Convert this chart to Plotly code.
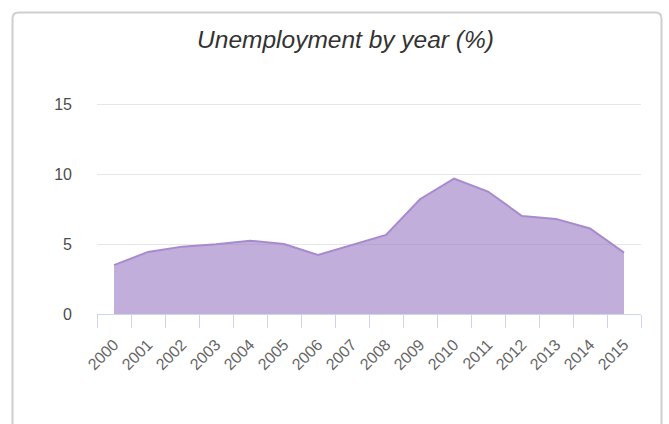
import plotly.graph_objects as go

# data
years = [str(y) for y in range(2000, 2016)]
unemployment = [3.5, 4.45, 4.83, 5.0, 5.26, 5.02, 4.23, 4.97,
                5.67, 8.23, 9.71, 8.78, 7.03, 6.82, 6.13, 4.4]
y_ticks = [0, 5, 10, 15]

W, H = 669, 424
L, R, T, B = 97, 28, 102, 110   # plot area margins (px)
PW, PH = W - L - R, H - T - B

idx = list(range(len(years)))
bounds = [i - 0.5 for i in range(len(years) + 1)]   # category edges for ticks


def px(x):
    return (x - L) / PW


def py(y):
    return (H - B - y) / PH


fig = go.Figure()
fig.add_trace(go.Scatter(
    x=idx, y=unemployment, mode='lines', fill='tozeroy',
    line=dict(color='rgb(168,138,206)', width=2),
    fillcolor='rgba(160,130,200,0.65)',
    showlegend=False,
    customdata=years,
    hovertemplate='%{customdata}: %{y:.1f}%<extra></extra>',
))

# card outline (rounded, runs off the bottom of the view)
x0, x1, y0, y1, r = 12.5, 661.5, 12.5, 440, 6
card = (f'M {px(x0)},{py(y1)} L {px(x0)},{py(y0 + r)} '
        f'Q {px(x0)},{py(y0)} {px(x0 + r)},{py(y0)} '
        f'L {px(x1 - r)},{py(y0)} '
        f'Q {px(x1)},{py(y0)} {px(x1)},{py(y0 + r)} '
        f'L {px(x1)},{py(y1)}')
fig.add_shape(type='path', path=card, xref='paper', yref='paper',
              line=dict(color='#cfcfcf', width=2), layer='below')

fig.update_layout(
    width=W, height=H,
    margin=dict(l=L, r=R, t=T, b=B),
    paper_bgcolor='white', plot_bgcolor='white',
    font=dict(family='Liberation Sans, Arial, sans-serif', size=13, color='#666666'),
    title=dict(
        text='<i>Unemployment by year (%)</i>',
        x=345.5 / W, xref='container', xanchor='center',
        y=1 - 39 / H, yref='container', yanchor='middle',
        font=dict(family='Liberation Sans, Arial, sans-serif', size=24.5, color='#333333'),
    ),
    xaxis=dict(
        range=[-0.5, 15.5],
        tickvals=idx, ticktext=years,
        ticks='outside', ticklen=14, tickcolor='rgba(0,0,0,0)',
        minor=dict(tickvals=bounds, ticks='outside', ticklen=13,
                   tickcolor='#ccd6eb', showgrid=False),
        showline=True, linecolor='#ccd6eb', linewidth=1,
        showgrid=False, zeroline=False, tickangle=-45,
        tickfont=dict(size=16, color='#666666'),
        fixedrange=True,
    ),
    yaxis=dict(
        range=[0, 15.2], tickvals=y_ticks,
        showgrid=True, gridcolor='#e6e6e6', gridwidth=1,
        zeroline=False, showline=False, ticks='',
        ticklabelstandoff=24,
        tickfont=dict(size=16, color='#4d4d4d'),
        fixedrange=True,
    ),
)

fig.write_html("out.html", config={'displayModeBar': False},
               post_script="document.body.style.margin='0';")
